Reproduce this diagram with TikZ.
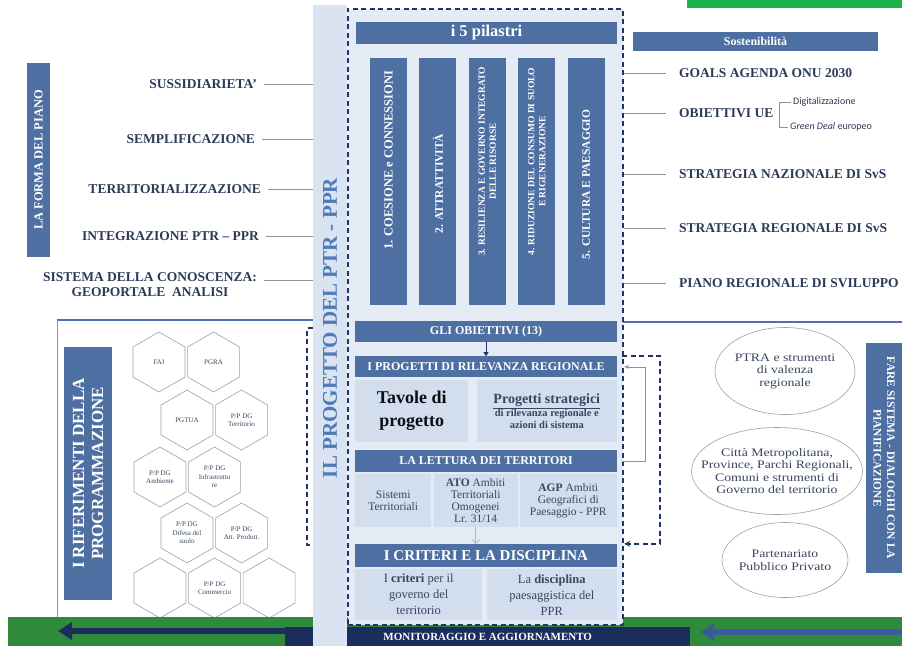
\documentclass[tikz,border=0pt]{standalone}
\usepackage{fontspec}
\setmainfont{Liberation Serif}
\newfontfamily\calibrifont{Carlito}
\newfontfamily\widefont[FakeStretch=1.2]{Liberation Serif}
\usetikzlibrary{positioning, arrows.meta, shapes.geometric, calc}
\definecolor{barblue}{HTML}{4E6FA2}
\definecolor{lightblue}{HTML}{D2DDEE}
\definecolor{bandblue}{HTML}{D9E3F2}
\definecolor{innerbg}{HTML}{E5EBF5}
\definecolor{dashnavy}{HTML}{1E3566}
\definecolor{labelnavy}{HTML}{2C3A58}
\definecolor{boxtext}{HTML}{3A4560}
\definecolor{linegray}{HTML}{8E939B}
\definecolor{hexgray}{HTML}{9DA1A8}
\definecolor{panelblue}{HTML}{4A70B0}
\definecolor{bargreen}{HTML}{2F8A3C}
\definecolor{topgreen}{HTML}{1DB24B}
\definecolor{navyblue}{HTML}{1A2D5C}
\definecolor{arrowblue}{HTML}{3A5B9A}
\definecolor{titleblue}{HTML}{4F7BB8}
\definecolor{palearrow}{HTML}{A9B6CB}

\begin{document}
\begin{tikzpicture}[x=1pt, y=-1pt, >=Stealth,
    lbl/.style={font=\bfseries\fontsize{13.5}{15}\selectfont, text=labelnavy, inner sep=1pt},
    smalllbl/.style={font=\calibrifont\fontsize{10}{12}\selectfont, text=labelnavy, inner sep=1pt},
    conn/.style={draw=linegray, line width=0.7pt},
    dashline/.style={draw=dashnavy, line width=1.5pt, dash pattern=on 5pt off 3.5pt},
    barbox/.style={rectangle, fill=barblue, text=white, inner sep=0pt, minimum width=262pt,
      minimum height=21pt, font=\bfseries\fontsize{12}{14}\selectfont},
    pillar/.style={rectangle, fill=barblue, minimum width=37pt, minimum height=247pt, inner sep=0pt},
    piltext/.style={rotate=90, text=white, align=center, inner sep=0pt,
      font=\bfseries\fontsize{11.5}{12.5}\selectfont},
    lightbox/.style={rectangle, fill=lightblue, inner sep=1pt, align=center, text=boxtext,
      font=\fontsize{11.5}{12}\selectfont},
    sidebar/.style={rectangle, fill=barblue, text=white, align=center, inner sep=0pt},
    hexcell/.style={regular polygon, regular polygon sides=6, shape border rotate=30,
      draw=hexgray, fill=white, line width=0.6pt, minimum size=60pt, inner sep=0pt,
      align=center, text=boxtext, font=\fontsize{7}{8.5}\selectfont},
    ellcell/.style={ellipse, draw=hexgray, line width=0.6pt, inner sep=0pt},
    elltext/.style={align=center, text=boxtext, font=\widefont\fontsize{11.5}{12.5}\selectfont}
  ]
  \clip (0,0) rectangle (902,646);
  \fill[white] (0,0) rectangle (902,646);
  \fill[topgreen] (687,0) rectangle (902,8);

  % La forma del piano
  \node[sidebar, rotate=90, minimum width=194pt, minimum height=23pt,
    font=\bfseries\fontsize{12.5}{14}\selectfont] (forma) at (38.5,160) {LA FORMA DEL PIANO};
  \node[lbl, anchor=east] (sus) at (258,84) {SUSSIDIARIETA'};
  \node[lbl, anchor=east] (sem) at (256,139) {SEMPLIFICAZIONE};
  \node[lbl, anchor=east] (terr) at (262,189) {TERRITORIALIZZAZIONE};
  \node[lbl, anchor=east] (intg) at (260,236) {INTEGRAZIONE PTR – PPR};
  \node[lbl, anchor=east, align=center] (sis) at (258,285) {SISTEMA DELLA CONOSCENZA:\\GEOPORTALE\ \ ANALISI};
  \coordinate (sisc) at ([yshift=5pt]sis.east);

  % Riferimenti della programmazione
  \draw[panelblue, line width=1.3pt] (57,320) -- (313,320);
  \draw[panelblue, line width=1.3pt] (622,322) -- (902,322);
  \draw[linegray, line width=0.6pt] (57,320) -- (57,617);
  \node[sidebar, rotate=90, minimum width=253pt, minimum height=48pt,
    font=\bfseries\fontsize{17}{19}\selectfont] (rifer) at (88,473.5) {I RIFERIMENTI DELLA\\PROGRAMMAZIONE};
  \node[hexcell] (fai) at (159,362) {FAI};
  \node[hexcell, right=2pt of fai] (pgra) {PGRA};
  \node[hexcell] (pgtua) at (187,420) {PGTUA};
  \node[hexcell, right=2pt of pgtua] (terri) {P/P DG\\Territorio};
  \node[hexcell] (amb) at (160,477) {P/P DG\\Ambiente};
  \node[hexcell, right=2pt of amb] (infra) {P/P DG\\Infrastruttu\\re};
  \node[hexcell] (difesa) at (187,533) {P/P DG\\Difesa del\\suolo};
  \node[hexcell, right=2pt of difesa] (attp) {P/P DG\\Att. Produtt.};
  \node[hexcell] (hexa) at (160,588) {};
  \node[hexcell, right=2pt of hexa] (comm) {P/P DG\\Commercio};
  \node[hexcell, right=2pt of comm] (hexb) {};
  \draw[dashline, line width=1.1pt] (313,328) -- (307,328) -- (307,545) -- (313,545);

  % Fare sistema
  \node[ellcell, minimum width=140pt, minimum height=87pt] (ptra) at (785,371) {};
  \node[elltext] (ptrat) at (ptra) {PTRA e strumenti\\di valenza\\regionale};
  \node[ellcell, minimum width=171pt, minimum height=87pt] (cmet) at (777,471) {};
  \node[elltext] (cmett) at (cmet) {Città Metropolitana,\\Province, Parchi Regionali,\\Comuni e strumenti di\\Governo del territorio};
  \node[ellcell, minimum width=126pt, minimum height=75pt] (ppp) at (785,560) {};
  \node[elltext] (pppt) at (ppp) {Partenariato\\Pubblico Privato};
  \node[sidebar, rotate=-90, minimum width=230pt, minimum height=37pt,
    font=\bfseries\fontsize{11.5}{13.5}\selectfont] (fare) at (884,458) {FARE SISTEMA - DIALOGHI CON LA\\PIANIFICAZIONE};

  % Monitoraggio
  \fill[bargreen] (8,617) rectangle (902,646);
  \node[fill=navyblue, minimum width=405pt, minimum height=19pt, inner sep=0pt, anchor=north west,
    text=white, font=\bfseries\fontsize{11}{13}\selectfont] (mon) at (285,627) {MONITORAGGIO E AGGIORNAMENTO};
  \coordinate (larr) at (58,631);
  \coordinate (rarr) at (902,632);
  \draw[navyblue, line width=6pt, -{Triangle[length=14pt, width=17pt]}] (mon.west |- larr) -- (larr);
  \draw[arrowblue, line width=6pt, -{Triangle[length=14pt, width=17pt]}, shorten >=10pt] (rarr) -- (mon.east |- rarr);

  % Il progetto del PTR - PPR
  \node[fill=bandblue, minimum width=34pt, minimum height=641pt, inner sep=0pt, anchor=north west] (band) at (313,5) {};
  \node[rotate=90, text=titleblue, font=\bfseries\fontsize{21}{24}\selectfont] (ttl) at (330,328) {IL PROGETTO DEL PTR - PPR};
  \node[dashline, fill=innerbg, minimum width=275pt, minimum height=616pt, inner sep=0pt, anchor=north west] (ptrbox) at (347,8) {};
  \foreach \n in {sus, sem, terr, intg}
    \draw[conn] ([xshift=6pt]\n.east) -- (\n.east -| band.west);
  \draw[conn] ([xshift=6pt]sisc) -- (sisc -| band.west);

  % i 5 pilastri
  \node[barbox, minimum width=261pt, minimum height=22pt, font=\bfseries\fontsize{16.5}{18}\selectfont] (pil) at (486.5,33) {i 5 pilastri};
  \node[pillar] (p1) at (388.5,181.5) {};
  \node[pillar, right=12pt of p1] (p2) {};
  \node[pillar, right=12pt of p2] (p3) {};
  \node[pillar, right=12pt of p3] (p4) {};
  \node[pillar, right=12pt of p4] (p5) {};
  \node[piltext, font=\bfseries\fontsize{12.5}{13.5}\selectfont] (t1) at ([yshift=21pt]p1.center) {1. COESIONE e CONNESSIONI};
  \node[piltext] (t2) at ([yshift=-2pt]p2.center) {2. ATTRATTIVITÀ};
  \node[piltext, font=\bfseries\fontsize{9.5}{11}\selectfont] (t3) at ([yshift=20pt]p3.center) {3. RESILIENZA E GOVERNO INTEGRATO\\DELLE RISORSE};
  \node[piltext, font=\bfseries\fontsize{9.5}{11}\selectfont] (t4) at ([yshift=20pt]p4.center) {4. RIDUZIONE DEL CONSUMO DI SUOLO\\E RIGENERAZIONE};
  \node[piltext] (t5) at ([yshift=-3pt]p5.center) {5. CULTURA E PAESAGGIO};

  % Sostenibilita
  \node[barbox, minimum width=245pt, minimum height=19pt, font=\bfseries\fontsize{12}{14}\selectfont] (sost) at (755.5,41.5) {Sostenibilità};
  \node[lbl, anchor=west] (goals) at (678,73) {GOALS AGENDA ONU 2030};
  \node[lbl, anchor=west] (ue) at (678,113) {OBIETTIVI UE};
  \node[smalllbl, anchor=west] (dig) at (792,102) {Digitalizzazione};
  \node[smalllbl, anchor=west] (gdeal) at (789,127) {\textit{Green Deal} europeo};
  \node[lbl, anchor=west] (snaz) at (678,174) {STRATEGIA NAZIONALE DI SvS};
  \node[lbl, anchor=west] (sreg) at (678,228) {STRATEGIA REGIONALE DI SvS};
  \node[lbl, anchor=west] (prs) at (678,283) {PIANO REGIONALE DI SVILUPPO};
  \foreach \n in {goals, ue, snaz, sreg, prs}
    \draw[conn] (\n.west -| ptrbox.east) -- ([xshift=-12pt]\n.west);
  \draw[conn] ([xshift=-1pt]dig.west) -| ([xshift=5pt]ue.east) |- ([xshift=-1pt]gdeal.west);

  % Obiettivi, progetti, lettura, criteri
  \node[barbox] (obj) at (486,331.5) {GLI OBIETTIVI (13)};
  \node[barbox, below=14pt of obj] (prog) {I PROGETTI DI RILEVANZA REGIONALE};
  \node[lightbox, minimum width=113pt, minimum height=62pt, anchor=north west, text=black!80!boxtext,
    font=\bfseries\fontsize{18}{23}\selectfont] (tav) at (355,380) {Tavole di\\progetto};
  \node[lightbox, minimum width=140pt, minimum height=62pt, anchor=north east,
    font=\bfseries\fontsize{10.5}{12}\selectfont] (strat) at (617,380)
    {{\fontsize{14}{16}\selectfont\underline{Progetti strategici}}\\di rilevanza regionale e\\azioni di sistema};
  \node[barbox, minimum height=22pt] (lett) at (486,461) {LA LETTURA DEI TERRITORI};
  \node[lightbox, minimum width=76pt, minimum height=53pt, anchor=north west] (sist) at (355,474) {Sistemi\\Territoriali};
  \node[lightbox, minimum width=84pt, minimum height=53pt, right=2pt of sist] (ato) {\textbf{ATO} Ambiti\\Territoriali\\Omogenei\\Lr. 31/14};
  \node[lightbox, minimum width=97pt, minimum height=53pt, anchor=north east] (agp) at (617,474) {\textbf{AGP} Ambiti\\Geografici di\\Paesaggio - PPR};
  \node[barbox, minimum height=23pt, font=\bfseries\fontsize{15}{17}\selectfont] (crit) at (486,555.5) {I CRITERI E LA DISCIPLINA};
  \node[lightbox, minimum width=127pt, minimum height=51pt, anchor=north west,
    font=\fontsize{12.5}{16}\selectfont] (crl) at (355,569) {I \textbf{criteri} per il\\governo del\\territorio};
  \node[lightbox, minimum width=130pt, minimum height=51pt, anchor=north east,
    font=\fontsize{12.5}{16}\selectfont] (crr) at (617,569) {La \textbf{disciplina}\\paesaggistica del\\PPR};
  \draw[dashnavy, line width=0.6pt, -{Triangle[length=4pt, width=5pt]}] (obj) -- (prog);
  \draw[palearrow, line width=0.8pt, -{Straight Barb[length=4pt, width=8pt]}] (ato.south) -- (ato.south |- crit.north);
  \draw[conn, -{Stealth[length=5pt, width=4pt]}, shorten <=5pt, shorten >=7pt] (lett.east) -- ++(28,0) |- (prog.east);
  \draw[dashline, -{Stealth[length=6pt, width=6pt]}, shorten <=5pt, shorten >=7pt] (prog.north east) -- ++(43,0) |- (crit.north east);
\end{tikzpicture}
\end{document}
